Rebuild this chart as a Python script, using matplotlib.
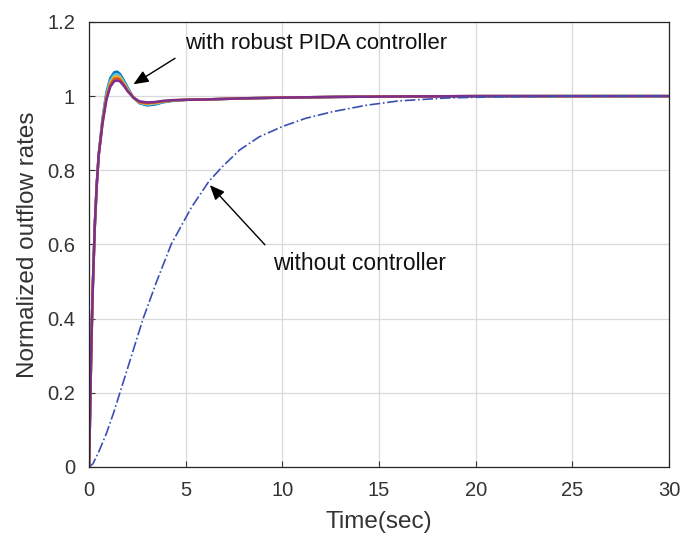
import numpy as np
import matplotlib
matplotlib.use('Agg')
import matplotlib.pyplot as plt

plt.rcParams['font.family'] = ['Liberation Sans', 'DejaVu Sans']

# step responses with the robust PIDA controller (several plant cases)
t_pida = [0, 0.05, 0.1, 0.15, 0.2, 0.3, 0.4, 0.5, 0.7, 0.9, 1.1, 1.3, 1.45, 1.6, 1.8,
          2.0, 2.3, 2.6, 3.0, 3.4, 3.8, 4.3, 5, 6, 8, 10, 13, 16, 20, 30]
y_blue = [0, 0.13, 0.27, 0.39, 0.49, 0.65, 0.76, 0.84, 0.94, 1.01, 1.048, 1.064, 1.066, 1.06, 1.043,
          1.023, 0.996, 0.981, 0.975, 0.977, 0.983, 0.987, 0.990, 0.991, 0.994, 0.996, 0.998, 0.999, 1.0, 1.0]
y_cyan = [0, 0.13, 0.27, 0.39, 0.49, 0.65, 0.76, 0.84, 0.937, 1.005, 1.042, 1.058, 1.06, 1.055, 1.039,
          1.02, 0.996, 0.982, 0.977, 0.979, 0.984, 0.988, 0.990, 0.991, 0.994, 0.996, 0.998, 0.999, 1.0, 1.0]
y_yellow = [0, 0.13, 0.27, 0.39, 0.49, 0.65, 0.76, 0.84, 0.933, 1.0, 1.036, 1.052, 1.054, 1.05, 1.035,
            1.017, 0.996, 0.983, 0.979, 0.981, 0.985, 0.988, 0.990, 0.991, 0.994, 0.996, 0.998, 0.999, 1.0, 1.0]
y_orange = [0, 0.13, 0.27, 0.39, 0.49, 0.65, 0.76, 0.84, 0.93, 0.995, 1.03, 1.046, 1.048, 1.045, 1.031,
            1.015, 0.996, 0.984, 0.981, 0.983, 0.986, 0.989, 0.990, 0.991, 0.994, 0.996, 0.998, 0.999, 1.0, 1.0]
y_purple = [0, 0.13, 0.27, 0.39, 0.49, 0.65, 0.76, 0.84, 0.926, 0.99, 1.025, 1.04, 1.042, 1.04, 1.028,
            1.013, 0.996, 0.986, 0.983, 0.984, 0.987, 0.989, 0.990, 0.991, 0.994, 0.996, 0.998, 0.999, 1.0, 1.0]

# open loop response (no controller)
t_open = [0, 0.2, 0.5, 0.9, 1.3, 1.6, 2.2, 2.8, 3.5, 4.25, 5.3, 6.2, 6.9, 7.8, 8.8,
          10, 11.2, 12.6, 14.3, 16, 18.5, 21, 25, 30]
y_open = [0, 0.008, 0.04, 0.09, 0.15, 0.2, 0.3, 0.4, 0.5, 0.6, 0.7, 0.77, 0.81, 0.855, 0.89,
          0.918, 0.94, 0.958, 0.975, 0.987, 0.995, 0.998, 1.0, 1.0]

fig = plt.figure(figsize=(6.83, 5.36), dpi=100)
ax = fig.add_axes([0.1303, 0.129, 0.8492, 0.83])

curves = [(y_blue, '#0072BD'), (y_cyan, '#4DBEEE'), (y_yellow, '#EDB120'),
          (y_orange, '#D95319'), (y_purple, '#7E2F8E')]
for y, c in curves:
    ax.plot(t_pida, y, color=c, lw=1.8)

ax.plot(t_open, y_open, color='#3a4fb5', lw=1.2, ls='-.')

ax.set_xlim(0, 30)
ax.set_ylim(0, 1.2)
ax.set_xticks(np.arange(0, 31, 5))
ax.set_yticks([0, 0.2, 0.4, 0.6, 0.8, 1.0, 1.2])
ax.set_yticklabels(['0', '0.2', '0.4', '0.6', '0.8', '1', '1.2'])
ax.grid(True, color='#d9d9d9', lw=0.9)
ax.set_axisbelow(True)
ax.tick_params(direction='in', length=4, labelsize=14.5, colors='#333333', pad=10)
for s in ax.spines.values():
    s.set_color('#262626')
    s.set_linewidth(0.9)

ax.set_xlabel('Time(sec)', fontsize=17.5, color='#333333', labelpad=8)
ax.set_ylabel('Normalized outflow rates', fontsize=17.5, color='#333333', labelpad=6)

arrow = dict(arrowstyle='-|>,head_length=0.9,head_width=0.38', color='k', lw=1,
             shrinkA=0, shrinkB=0)
ax.annotate('', xy=(2.3, 1.032), xytext=(4.45, 1.102), arrowprops=arrow)
ax.text(4.95, 1.142, 'with robust PIDA controller', fontsize=16, va='center', color='#111111')
ax.annotate('', xy=(6.25, 0.76), xytext=(9.1, 0.599), arrowprops=arrow)
ax.text(9.5, 0.549, 'without controller', fontsize=16.5, va='center', color='#111111')

fig.savefig('out.png', dpi=100)
